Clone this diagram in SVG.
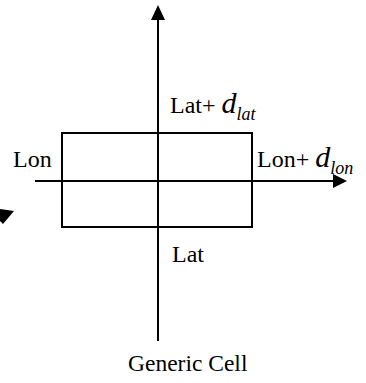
<svg xmlns="http://www.w3.org/2000/svg" width="366" height="383" viewBox="0 0 366 383">
<style>
.ln{stroke:#000;stroke-width:2;fill:none}
.ah{fill:#000}
.t{font-family:"Liberation Serif","Times New Roman",serif;font-size:24px;fill:#000}
.d{font-style:italic;font-size:30px}
.s{font-style:italic;font-size:18px}
</style>
<rect width="366" height="383" fill="#fff"/>
<g id="cell">
<rect class="ln" x="62" y="133" width="190" height="94"/>
</g>
<g id="connectors">
<line class="ln" x1="158" y1="18" x2="158" y2="341"/>
<polygon class="ah" points="158,5 151,20 165,20"/>
<line class="ln" x1="35" y1="181" x2="336" y2="181"/>
<polygon class="ah" points="347,181 333,174 333,188"/>
<polygon class="ah" points="0,209 14,211 3,224 0,221"/>
</g>
<g id="labels">
<text class="t" x="170" y="113">Lat+ <tspan class="d">d</tspan><tspan class="s" dy="7">lat</tspan></text>
<text class="t" x="257" y="167">Lon+ <tspan class="d">d</tspan><tspan class="s" dy="7">lon</tspan></text>
<text class="t" x="13" y="167">Lon</text>
<text class="t" x="172" y="262">Lat</text>
<text class="t" x="128" y="371" style="font-size:23.5px">Generic Cell</text>
</g>
</svg>
